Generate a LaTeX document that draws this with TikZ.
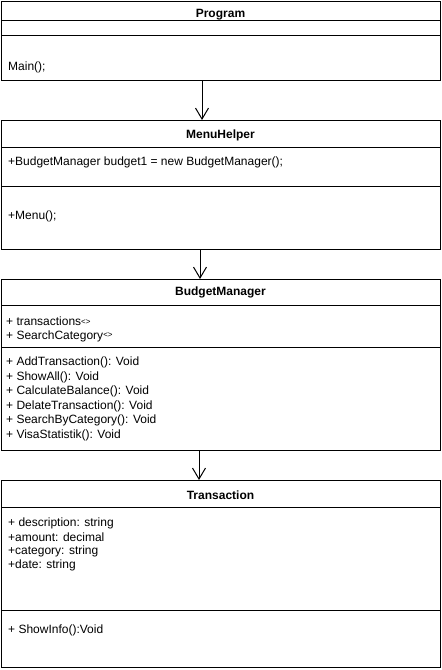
\documentclass[tikz,border=0pt]{standalone}
\usepackage{fontspec}
\setmainfont{Liberation Sans}
\usetikzlibrary{arrows.meta}
\usetikzlibrary{calc}

\begin{document}
\begin{tikzpicture}[x=1pt, y=-1pt]
        % ================= 样式 =================
        \tikzset{
            % 类框的一格 (标题/属性/方法)
            cell/.style={rectangle, draw=black, line width=1pt, fill=white, anchor=north west, minimum width=439pt, inner sep=0pt},
            % 标题文字 (粗体居中)
            ctitle/.style={font=\fontsize{12pt}{14pt}\selectfont\bfseries, inner sep=0pt},
            % 成员文字 (左对齐)
            member/.style={anchor=west, font=\fontsize{12pt}{14pt}\selectfont, inner sep=0pt},
            % 开口箭头
            assoc/.style={line width=1pt, -{Straight Barb[length=11pt, width=13pt, line width=1pt]}}
        }
        \newcommand{\gen}{\raisebox{1.2pt}{\fontsize{8pt}{9pt}\selectfont\textless\textgreater}}
        \useasboundingbox (0,0) rectangle (442,670);

        % ================= 类框 =================
        % Program
        \node[cell, minimum height=19pt] (prog_title) at (1,1) {};
        \node[cell, minimum height=15pt] (prog_attr) at (1,20) {};
        \node[cell, minimum height=45pt] (prog_ops) at (1,35) {};
        % MenuHelper
        \node[cell, minimum height=27pt] (menu_title) at (1,120) {};
        \node[cell, minimum height=39pt] (menu_attr) at (1,147) {};
        \node[cell, minimum height=63pt] (menu_ops) at (1,186) {};
        % BudgetManager
        \node[cell, minimum height=26pt] (bm_title) at (1,279) {};
        \node[cell, minimum height=42pt] (bm_attr) at (1,305) {};
        \node[cell, minimum height=103pt] (bm_ops) at (1,347) {};
        % Transaction
        \node[cell, minimum height=27pt] (tr_title) at (1,480) {};
        \node[cell, minimum height=103pt] (tr_attr) at (1,507) {};
        \node[cell, minimum height=57pt] (tr_ops) at (1,610) {};

        % ================= 文字 =================
        \node[ctitle] (prog_name) at (220.5,14.5) {Program};
        \node[member] (prog_m1) at (8,67) {Main();};

        \node[ctitle] (menu_name) at (220.5,135) {MenuHelper};
        \node[member] (menu_a1) at (8,162) {+BudgetManager budget1 = new BudgetManager();};
        \node[member] (menu_m1) at (8,216) {+Menu();};

        \node[ctitle] (bm_name) at (220.5,292.5) {BudgetManager};
        \node[member] (bm_a1) at (6,321) {+ transactions\gen};
        \node[member] (bm_a2) at (6,336) {+ SearchCategory\gen};
        \node[member] (bm_m1) at (6,362) {+ AddTransaction(): Void};
        \node[member] (bm_m2) at (6,377) {+ ShowAll(): Void};
        \node[member] (bm_m3) at (6,391) {+ CalculateBalance(): Void};
        \node[member] (bm_m4) at (6,406) {+ DelateTransaction(): Void};
        \node[member] (bm_m5) at (6,420) {+ SearchByCategory(): Void};
        \node[member] (bm_m6) at (6,435) {+ VisaStatistik(): Void};

        \node[ctitle] (tr_name) at (220.5,495) {Transaction};
        \node[member] (tr_a1) at (8,523) {+ description: string};
        \node[member] (tr_a2) at (8,537) {+amount: decimal};
        \node[member] (tr_a3) at (8,551) {+category: string};
        \node[member] (tr_a4) at (8,565) {+date: string};
        \node[member] (tr_m1) at (8,630) {+ ShowInfo():Void};

        % ================= 箭头 =================
        \coordinate (ax1) at (202,0);
        \coordinate (ax2) at (200,0);
        \coordinate (ax3) at (199,0);
        \draw[assoc] (prog_ops.south -| ax1) -- (menu_title.north -| ax1);
        \draw[assoc] (menu_ops.south -| ax2) -- (bm_title.north -| ax2);
        \draw[assoc] (bm_ops.south -| ax3) -- (tr_title.north -| ax3);

    \end{tikzpicture}
\end{document}
